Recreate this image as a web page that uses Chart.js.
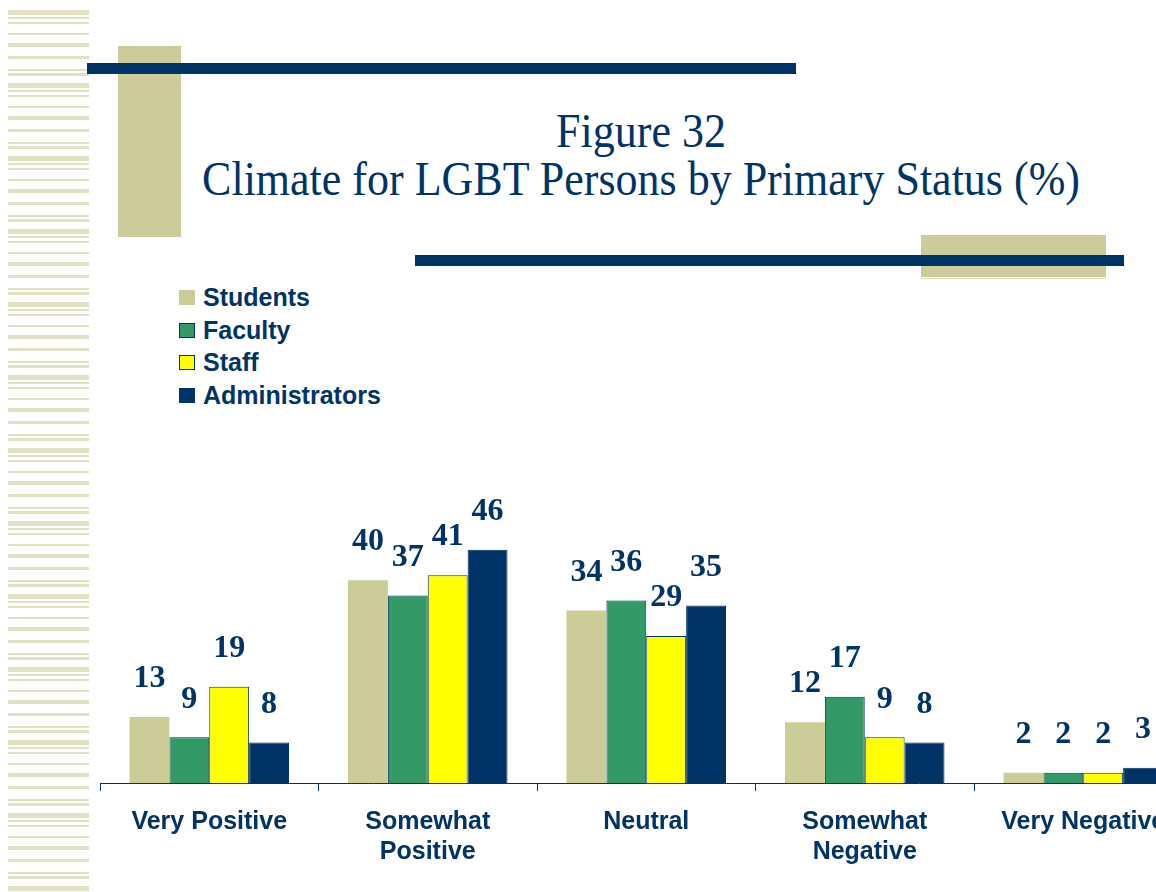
<!DOCTYPE html>
<html>
<head>
<meta charset="utf-8">
<script src="https://cdn.jsdelivr.net/npm/chart.js@4"></script>
<style>
  html, body { margin: 0; padding: 0; background: #fff; }
  body { width: 1156px; height: 892px; overflow: hidden; position: relative; }
  #stripes {
    position: absolute; left: 8px; top: 10px; width: 81px; height: 882px;
    background: repeating-linear-gradient(to bottom,
      #e3e1c3 0px, #e3e1c3 5px, transparent 5px, transparent 7px,
      #e3e1c3 7px, #e3e1c3 9px, transparent 9px, transparent 12px,
      #e3e1c3 12px, #e3e1c3 14px, transparent 14px, transparent 23px,
      #e3e1c3 23px, #e3e1c3 25px, transparent 25px, transparent 33px,
      #e3e1c3 33px, #e3e1c3 37px, transparent 37px, transparent 46px,
      #e3e1c3 46px, #e3e1c3 49px, transparent 49px, transparent 59px,
      #e3e1c3 59px, #e3e1c3 61px, transparent 61px, transparent 63px,
      #e3e1c3 63px, #e3e1c3 66px, transparent 66px, transparent 73px);
  }
  .deco { position: absolute; }
  #title {
    position: absolute; left: 641px; top: 107px; white-space: nowrap;
    transform: translateX(-50%) scaleY(1.1); transform-origin: 50% 0;
    font-family: "Liberation Serif", "Times New Roman", serif; font-size: 44px;
    line-height: 44px; color: #003366; text-align: center;
  }
  #legend { position: absolute; left: 179px; top: 281px; font-family: "Liberation Sans", Arial, sans-serif;
    font-weight: bold; font-size: 25px; color: #003366; }
  #legend .row { height: 32.7px; line-height: 32.7px; display: flex; align-items: center; }
  #legend .box { width: 16px; height: 15px; margin-right: 8px; box-sizing: border-box; }
  canvas { position: absolute; left: 0; top: 0; }
</style>
</head>
<body>
<div id="stripes"></div>
<div class="deco" style="left:118px;top:46px;width:63px;height:191px;background:#cccb99"></div>
<div class="deco" style="left:87px;top:63px;width:709px;height:11px;background:#003366"></div>
<div class="deco" style="left:921px;top:235px;width:185px;height:42px;background:#cccb99"></div>
<div class="deco" style="left:921px;top:278px;width:185px;height:1px;background:#dcdbbb"></div>
<div class="deco" style="left:415px;top:255px;width:709px;height:11px;background:#003366"></div>
<div id="title">Figure 32<br>Climate for LGBT Persons by Primary Status (%)</div>
<div id="legend"></div>
<canvas id="grafico" width="1200" height="892"></canvas>
<script>
// categorias y valores (%)
const categories = [['Very Positive'], ['Somewhat', 'Positive'], ['Neutral'], ['Somewhat', 'Negative'], ['Very Negative']];
const students = [13, 40, 34, 12, 2];
const faculty = [9, 37, 36, 17, 2];
const staff = [19, 41, 29, 9, 2];
const administrators = [8, 46, 35, 8, 3];

const seriesNames = ['Students', 'Faculty', 'Staff', 'Administrators'];
const seriesColors = ['#cccc99', '#339966', '#ffff00', '#003366'];
const seriesBorders = ['#cccc99', '#003366', '#003366', '#003366'];
const seriesData = [students, faculty, staff, administrators];

// leyenda en html
const legend = document.getElementById('legend');
seriesNames.forEach((name, i) => {
  const row = document.createElement('div');
  row.className = 'row';
  row.innerHTML = '<span class="box" style="background:' + seriesColors[i] +
    ';border:1px solid ' + seriesBorders[i] + '"></span>' + name;
  legend.appendChild(row);
});

// etiquetas de valor encima de las barras
const valueLabels = {
  id: 'valueLabels',
  afterDatasetsDraw(chart) {
    const ctx = chart.ctx;
    ctx.save();
    ctx.font = 'bold 32px "Liberation Serif", "Times New Roman", serif';
    ctx.fillStyle = '#003366';
    ctx.textAlign = 'center';
    ctx.textBaseline = 'middle';
    chart.data.datasets.forEach((ds, i) => {
      chart.getDatasetMeta(i).data.forEach((bar, j) => {
        ctx.fillText(String(ds.data[j]), bar.x, bar.y - 38);
      });
    });
    ctx.restore();
  }
};

new Chart(document.getElementById('grafico'), {
  type: 'bar',
  data: {
    labels: categories,
    datasets: seriesNames.map((name, i) => ({
      label: name,
      data: seriesData[i],
      backgroundColor: seriesColors[i],
      borderColor: seriesBorders[i],
      borderWidth: i === 0 ? 0 : 1,
      categoryPercentage: 0.73,
      barPercentage: 1
    }))
  },
  options: {
    responsive: false,
    animation: false,
    layout: { padding: { left: 100, right: 7.5, top: 276, bottom: 0 } },
    plugins: { legend: { display: false }, tooltip: { enabled: false } },
    scales: {
      y: { display: false, min: 0, max: 100 },
      x: {
        afterFit(scale) { scale.height = 109; },
        border: { display: true, color: '#003366', width: 1 },
        grid: { drawOnChartArea: false, drawTicks: true, tickLength: 8, color: '#003366' },
        ticks: {
          autoSkip: false, maxRotation: 0, minRotation: 0, padding: 16,
          color: '#003366',
          font: { family: '"Liberation Sans", Arial, sans-serif', size: 25, weight: 'bold', lineHeight: 1.2 }
        }
      }
    }
  },
  plugins: [valueLabels]
});
</script>
</body>
</html>
